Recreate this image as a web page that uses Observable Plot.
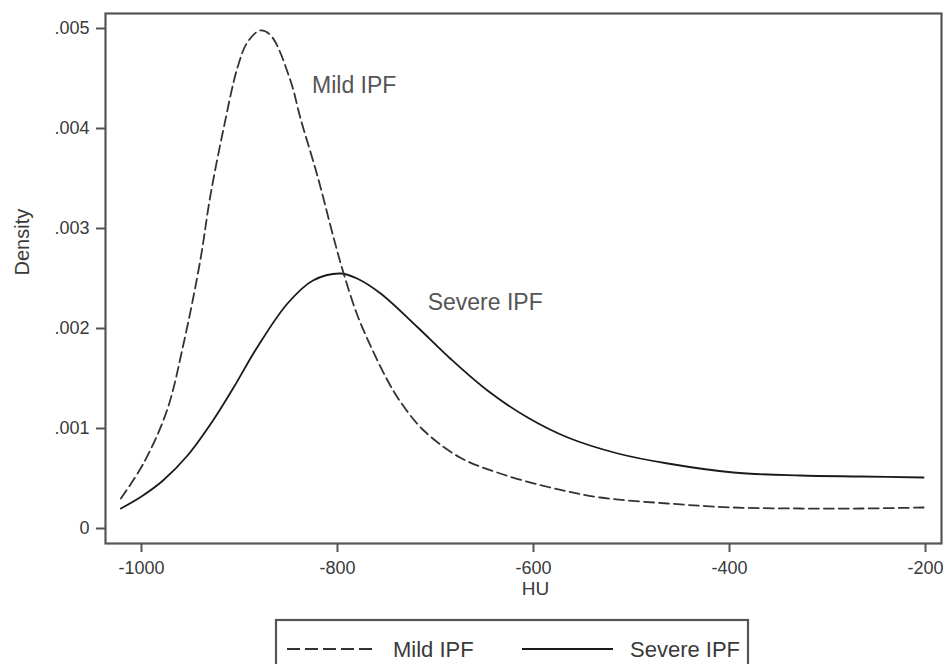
<!DOCTYPE html>
<html>
<head>
<meta charset="utf-8">
<script src="https://cdn.jsdelivr.net/npm/d3@7"></script>
<script src="https://cdn.jsdelivr.net/npm/@observablehq/plot@0.6"></script>
<style>
  html, body { margin: 0; padding: 0; background: #fff; }
  body { width: 948px; height: 664px; overflow: hidden; font-family: "Liberation Sans", Arial, sans-serif; }
  #chart svg { display: block; }
</style>
</head>
<body>
<div id="chart"></div>
<div id="legend"></div>
<script>
// ---- data ----
const mildHU = [-1021, -998, -974, -957, -940, -930, -916, -902, -892, -879, -868, -848, -838, -820, -804, -794, -780, -765, -750, -736, -712, -675, -634, -583, -532, -463, -396, -328, -266, -202];
const mildDensity = [0.00030, 0.00065, 0.00118, 0.00185, 0.00268, 0.00331, 0.00401, 0.00461, 0.00486, 0.00498, 0.00493, 0.00448, 0.00411, 0.00351, 0.00291, 0.00256, 0.00214, 0.00180, 0.00150, 0.00127, 0.00098, 0.00071, 0.00055, 0.00041, 0.00031, 0.00025, 0.00021, 0.00020, 0.00020, 0.00021];

const severeHU = [-1021, -1000, -978, -953, -927, -906, -882, -851, -825, -797, -780, -756, -718, -685, -647, -606, -565, -514, -463, -396, -328, -266, -202];
const severeDensity = [0.00020, 0.00032, 0.00048, 0.00073, 0.00108, 0.00141, 0.00181, 0.00225, 0.00248, 0.00255, 0.00250, 0.00235, 0.00201, 0.00170, 0.00138, 0.00111, 0.00091, 0.00075, 0.00065, 0.00056, 0.00053, 0.00052, 0.00051];

const xTicks = [-1000, -800, -600, -400, -200];
const yTicks = [0, 0.001, 0.002, 0.003, 0.004, 0.005];
const seriesNames = ["Mild IPF", "Severe IPF"];
const labelHU = [-826, -708];
const labelDensity = [0.00443, 0.00226];

// ---- build tables ----
const mild = mildHU.map((x, i) => ({x, y: mildDensity[i]}));
const severe = severeHU.map((x, i) => ({x, y: severeDensity[i]}));
const labels = seriesNames.map((name, i) => ({name, x: labelHU[i], y: labelDensity[i]}));

const yFmt = d => d === 0 ? "0" : d3.format(".3f")(d).replace(/^0/, "");

const chart = Plot.plot({
  width: 948,
  height: 600,
  marginLeft: 105,
  marginRight: 7,
  marginTop: 13,
  marginBottom: 57,
  style: {fontFamily: "'Liberation Sans', Arial, sans-serif", background: "#fff"},
  x: {domain: [-1036.7, -183.7]},
  y: {domain: [-0.00015, 0.00515]},
  marks: [
    Plot.axisX({ticks: xTicks, tickFormat: d => String(d), tickSize: 9, tickPadding: 9,
      stroke: "#555", strokeWidth: 2, fill: "#3a3a3a", fontSize: 18, label: null}),
    Plot.axisY({ticks: yTicks, tickFormat: yFmt, tickSize: 9, tickPadding: 7,
      stroke: "#555", strokeWidth: 2, fill: "#3a3a3a", fontSize: 18, label: null}),
    Plot.line(severe, {x: "x", y: "y", curve: "catmull-rom", stroke: "#1a1a1a", strokeWidth: 1.8}),
    Plot.line(mild, {x: "x", y: "y", curve: "catmull-rom", stroke: "#333", strokeWidth: 1.8, strokeDasharray: "10,5"}),
    Plot.text(labels, {x: "x", y: "y", text: "name", textAnchor: "start", fontSize: 23, fill: "#555"}),
    Plot.frame({stroke: "#555", strokeWidth: 2.2}),
    Plot.text(["Density"], {frameAnchor: "left", dx: -83, dy: -3, rotate: -90, fontSize: 20, fill: "#3a3a3a"}),
    Plot.text(["HU"], {frameAnchor: "bottom", dx: 12, dy: 51, fontSize: 19, fill: "#3a3a3a"})
  ]
});
document.getElementById("chart").appendChild(chart);

// ---- legend below the plot ----
const legendSvg = d3.select("#legend").append("svg")
  .attr("width", 948).attr("height", 64).style("display", "block");
legendSvg.append("rect")
  .attr("x", 276).attr("y", 20).attr("width", 472).attr("height", 46)
  .attr("fill", "#fff").attr("stroke", "#555").attr("stroke-width", 2.2);
const items = [
  {name: seriesNames[0], x1: 287, x2: 377, tx: 393, dash: "13,5", stroke: "#333"},
  {name: seriesNames[1], x1: 522, x2: 613, tx: 630, dash: null, stroke: "#1a1a1a"}
];
items.forEach(it => {
  const l = legendSvg.append("line")
    .attr("x1", it.x1).attr("x2", it.x2).attr("y1", 49).attr("y2", 49)
    .attr("stroke", it.stroke).attr("stroke-width", 1.8);
  if (it.dash) l.attr("stroke-dasharray", it.dash);
  legendSvg.append("text")
    .attr("x", it.tx).attr("y", 49).attr("dy", "0.35em")
    .attr("font-size", 22).attr("fill", "#3a3a3a")
    .attr("font-family", "'Liberation Sans', Arial, sans-serif")
    .text(it.name);
});
</script>
</body>
</html>
